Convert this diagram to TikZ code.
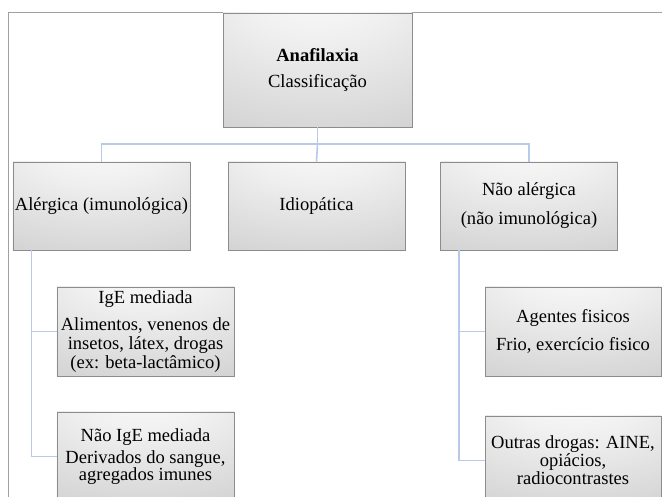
\documentclass[tikz,border=0pt]{standalone}
\usepackage{fontspec}
\setmainfont[Ligatures=CommonOff]{Liberation Serif}
\pgfdeclareradialshading{smartgray}{\pgfpoint{0bp}{40bp}}{rgb(0bp)=(0.99,0.99,0.99); rgb(20bp)=(0.94,0.94,0.94); rgb(50bp)=(0.84,0.84,0.84); rgb(90bp)=(0.69,0.69,0.69); rgb(120bp)=(0.60,0.60,0.60)}
\definecolor{framegray}{RGB}{160,160,160}
\definecolor{boxborder}{RGB}{140,140,140}
\definecolor{linkblue}{RGB}{184,202,232}
\tikzset{
  box/.style={draw=boxborder, line width=0.8bp, shading=smartgray, inner sep=0pt, align=center, text=black},
  bigbox/.style={box, minimum width=177bp, minimum height=88bp},
  link/.style={draw=linkblue, line width=1.6bp},
  frameline/.style={draw=framegray, line width=1.6bp},
  f18/.style={font=\fontsize{18.6}{#1}\selectfont}
}
\begin{document}
\begin{tikzpicture}[x=1bp,y=1bp]
\useasboundingbox (0,0) rectangle (662,497);
% frame
\coordinate (fbl) at (8.5,0);
\coordinate (ftl) at (8.5,484.5);
\coordinate (ftr) at (662,484.5);
\draw[frameline] (fbl) -- (ftl) -- (ftr);

% connectors
\node[box, minimum width=189bp, minimum height=114bp, f18=26] (top) at (317.5,427) {\textbf{Anafilaxia}\\Classificação};
\node[bigbox, f18=29] (b1) at (101.5,291) {Alérgica (imunológica)};
\node[bigbox, f18=29] (b2) at (316.5,291) {Idiopática};
\node[bigbox, f18=29] (b3) at (529,291) {Não alérgica\\(não imunológica)};
\node[bigbox, minimum height=89bp, f18=19] (s1) at (145.5,165.5) {IgE mediada\\[9bp]Alimentos, venenos de\\insetos, látex, drogas\\(ex: beta-lactâmico)};
\node[bigbox, minimum height=89bp, f18=17] (s2) at (145.5,40.5) {Não IgE mediada\\[5bp]Derivados do sangue,\\agregados imunes};
\node[bigbox, minimum width=176bp, minimum height=89bp, f18=28] (s3) at (573,165.5) {Agentes fisicos\\Frio, exercício fisico};
\node[bigbox, minimum width=176bp, minimum height=89bp, f18=16] (s4) at (573,36.5) {Outras drogas: AINE,\\opiácios,\\radiocontrastes};

\coordinate (bus) at (317.5,353);
\coordinate (lv) at ([xshift=19bp]b1.south west);
\coordinate (rv) at ([xshift=19bp]b3.south west);
\draw[link] (top.south) -- (bus) -| (b1.north);
\draw[link] (bus) -| (b3.north);
\draw[link] (bus) -- (b2.north);
\draw[link] (lv) |- (s1.west);
\draw[link] (lv) |- (s2.west);
\draw[link] (rv) |- (s3.west);
\draw[link] (rv) |- (s4.west);
\end{tikzpicture}
\end{document}
